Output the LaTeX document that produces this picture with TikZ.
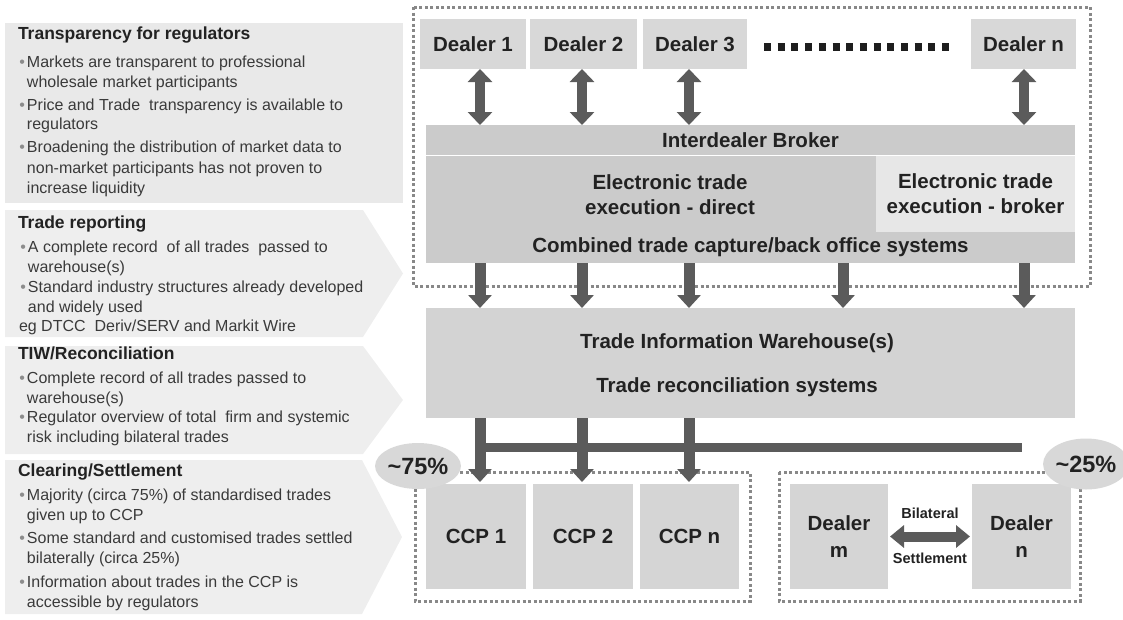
\documentclass[tikz,border=0pt]{standalone}
\usepackage{fontspec}
\setmainfont{Liberation Sans}
\usetikzlibrary{arrows.meta,calc,shapes.geometric}

\definecolor{titlegrey}{HTML}{222222}
\definecolor{bodygrey}{HTML}{3A3A3A}
\definecolor{bulletgrey}{HTML}{8C8C8C}
\definecolor{paneldark}{HTML}{E9E9E9}
\definecolor{panellight}{HTML}{EEEEEE}
\definecolor{dealerfill}{HTML}{D8D8D8}
\definecolor{bandfill}{HTML}{CBCBCB}
\definecolor{brokerfill}{HTML}{E7E7E7}
\definecolor{tiwfill}{HTML}{D3D3D3}
\definecolor{ccpfill}{HTML}{D5D5D5}
\definecolor{arrowgrey}{HTML}{5B5B5B}
\definecolor{framegrey}{HTML}{888888}
\definecolor{ellgrey}{HTML}{D8D8D8}
\definecolor{dotblack}{HTML}{1E1E1E}

\newcommand\Bul{\makebox[9pt][l]{\hspace{1.5pt}\textcolor{bulletgrey}{\textbullet}}}
\newcommand\Ind{\hspace{9pt}}

\tikzset{
  every node/.style={inner sep=0pt, outer sep=0pt},
  ptitle/.style={anchor=base west, font=\fontsize{17.5}{21}\selectfont\bfseries, text=titlegrey},
  pline/.style={anchor=base west, font=\fontsize{16}{20}\selectfont, text=bodygrey},
  bigtext/.style={font=\fontsize{20.5}{25}\selectfont\bfseries, text=titlegrey},
  smalltext/.style={font=\fontsize{14.5}{17}\selectfont\bfseries, text=titlegrey},
  dealerbox/.style={bigtext, rectangle, fill=dealerfill, minimum height=50pt},
  bandbox/.style={bigtext, rectangle, fill=bandfill},
  brokerbox/.style={bigtext, rectangle, fill=brokerfill},
  tiwbox/.style={rectangle, fill=tiwfill},
  ccpbox/.style={bigtext, rectangle, fill=ccpfill, minimum height=105pt, align=center},
  frame/.style={draw=framegrey, line width=3pt, dash pattern=on 3pt off 2.5pt},
  dotrow/.style={draw=dotblack, line width=8pt, dash pattern=on 7pt off 6.7pt},
  dblarrow/.style={draw=arrowgrey, fill=arrowgrey, line width=10pt,
    {Triangle[width=24pt,length=13pt]}-{Triangle[width=24pt,length=13pt]}},
  downarrow/.style={draw=arrowgrey, fill=arrowgrey, line width=11pt,
    -{Triangle[width=23pt,length=13pt]}},
  hdblarrow/.style={draw=arrowgrey, fill=arrowgrey, line width=10pt,
    {Triangle[width=22pt,length=14pt]}-{Triangle[width=22pt,length=14pt]}},
  barline/.style={draw=arrowgrey, line width=9pt},
  pct/.style={shape=ellipse, fill=ellgrey, font=\fontsize{23.5}{26}\selectfont\bfseries, text=titlegrey},
}

\begin{document}
\begin{tikzpicture}[x=1pt,y=-1pt]
\useasboundingbox (0,0) rectangle (1123,619);

% ---------- left-hand commentary panels ----------
\fill[paneldark] (5,23) rectangle (403,203);
\fill[panellight] (5,210) -- (363,210) -- (403,273.5) -- (363,337) -- (5,337) -- cycle;
\fill[panellight] (5,346) -- (363,346) -- (403,400) -- (363,454) -- (5,454) -- cycle;
\fill[panellight] (5,460) -- (362,460) -- (402,537) -- (362,614) -- (5,614) -- cycle;

\node[ptitle] (t1) at (18,39) {Transparency for regulators};
\foreach \yy/\txt [count=\k] in {
  62/{\Bul Markets are transparent to professional},
  82/{\Ind wholesale market participants},
  105/{\Bul Price and Trade\ \ transparency is available to},
  124/{\Ind regulators},
  147/{\Bul Broadening the distribution of market data to},
  168/{\Ind non-market participants has not proven to},
  188/{\Ind increase liquidity}}
  {\node[pline] (la\k) at (18,\yy+5.5) {\txt};}

\node[ptitle] (t2) at (18,228) {Trade reporting};
\foreach \yy/\txt [count=\k] in {
  247/{\Bul A complete record\ \ of all trades\ \ passed to},
  267/{\Ind warehouse(s)},
  287/{\Bul Standard industry structures already developed},
  307/{\Ind and widely used},
  326/{eg DTCC\ \ Deriv/SERV and Markit Wire}}
  {\node[pline] (lb\k) at (19,\yy+5.5) {\txt};}

\node[ptitle] (t3) at (18,359) {TIW/Reconciliation};
\foreach \yy/\txt [count=\k] in {
  378/{\Bul Complete record of all trades passed to},
  398/{\Ind warehouse(s)},
  417/{\Bul Regulator overview of total\ \ firm and systemic},
  437/{\Ind risk including bilateral trades}}
  {\node[pline] (lc\k) at (18,\yy+5.5) {\txt};}

\node[ptitle] (t4) at (18,476) {Clearing/Settlement};
\foreach \yy/\txt [count=\k] in {
  495/{\Bul Majority (circa 75\%) of standardised trades},
  515/{\Ind given up to CCP},
  538/{\Bul Some standard and customised trades settled},
  558/{\Ind bilaterally (circa 25\%)},
  582/{\Bul Information about trades in the CCP is},
  602/{\Ind accessible by regulators}}
  {\node[pline] (ld\k) at (18,\yy+5.5) {\txt};}

% ---------- dotted groupings ----------
\draw[frame] (413,7) rectangle (1090,286);
\draw[frame] (415,472) rectangle (750,601);
\draw[frame] (779,472) rectangle (1080,601);

% ---------- dealers and execution layer ----------
\node[dealerbox, minimum width=106pt] (d1) at (473,44) {Dealer 1};
\node[dealerbox, minimum width=107pt] (d2) at (583.5,44) {Dealer 2};
\node[dealerbox, minimum width=104pt] (d3) at (695,44) {Dealer 3};
\node[dealerbox, minimum width=105pt] (dn) at (1023.5,44) {Dealer n};
\draw[dotrow] ($(d3.east)+(17,3)$) -- ($(d3.east)+(202.1,3)$);

\node[bandbox, minimum width=649pt, minimum height=30pt] (ib) at (750.5,140) {Interdealer Broker};
\node[bandbox, minimum width=450pt, minimum height=77pt] (dir) at (651,193.5) {};
\node[bigtext, align=center] (dirtxt) at (670,194.5) {Electronic trade\\execution - direct};
\node[brokerbox, minimum width=199pt, minimum height=77pt, align=center] (brk) at (975.5,193.5) {Electronic trade\\execution - broker};
\node[bandbox, minimum width=649pt, minimum height=31pt] (cmb) at (750.5,247.5) {Combined trade capture/back office systems};
\draw[white, line width=1pt] (ib.south west) -- (ib.south east);

% arrow columns
\coordinate (k1) at (480,0);
\coordinate (k2) at (582,0);
\coordinate (k3) at (689,0);
\coordinate (k4) at (843,0);
\coordinate (k5) at (1024,0);

\draw[dblarrow] (d1.south -| k1) -- (ib.north -| k1);
\draw[dblarrow] (d2.south -| k2) -- (ib.north -| k2);
\draw[dblarrow] (d3.south -| k3) -- (ib.north -| k3);
\draw[dblarrow] (dn.south -| k5) -- (ib.north -| k5);

% ---------- warehouse ----------
\node[tiwbox, minimum width=649pt, minimum height=110pt] (tiw) at (750.5,363) {};
\node[bigtext, align=center] (tiwtxt) at (737,365) {Trade Information Warehouse(s)\\[19pt]Trade reconciliation systems};

\foreach \k in {k1,k2,k3,k4,k5}
  \draw[downarrow] (cmb.south -| \k) -- (tiw.north -| \k);

% ---------- clearing and bilateral settlement ----------
\node[ccpbox, minimum width=100pt] (ccp1) at (476,536.5) {CCP 1};
\node[ccpbox, minimum width=100pt] (ccp2) at (583,536.5) {CCP 2};
\node[ccpbox, minimum width=99pt] (ccpn) at (689.5,536.5) {CCP n};
\node[ccpbox, minimum width=98pt, font=\fontsize{20.5}{27}\selectfont\bfseries] (dm) at (839,536.5) {Dealer\\m};
\node[ccpbox, minimum width=99pt, font=\fontsize{20.5}{27}\selectfont\bfseries] (dn2) at (1021.5,536.5) {Dealer\\n};

\coordinate (barend) at (1022,447);
\draw[barline] (k1 |- barend) -- (barend);
\draw[downarrow] (tiw.south -| k1) -- ($(ccp1.north -| k1)+(0,-2)$);
\draw[downarrow] (tiw.south -| k2) -- ($(ccp2.north -| k2)+(0,-2)$);
\draw[downarrow] (tiw.south -| k3) -- ($(ccpn.north -| k3)+(0,-2)$);

\draw[hdblarrow] ($(dm.east)+(2,0)$) -- ($(dn2.west)+(-2,0)$);
\node[smalltext] (bil) at (930,513) {Bilateral};
\node[smalltext] (stl) at (930,558) {Settlement};

\node[pct, minimum width=68pt, minimum height=46pt] (p75) at (418,466) {\textasciitilde 75\%};
\node[pct, minimum width=70pt, minimum height=51pt] (p25) at (1086,464) {\textasciitilde 25\%};
\end{tikzpicture}
\end{document}
